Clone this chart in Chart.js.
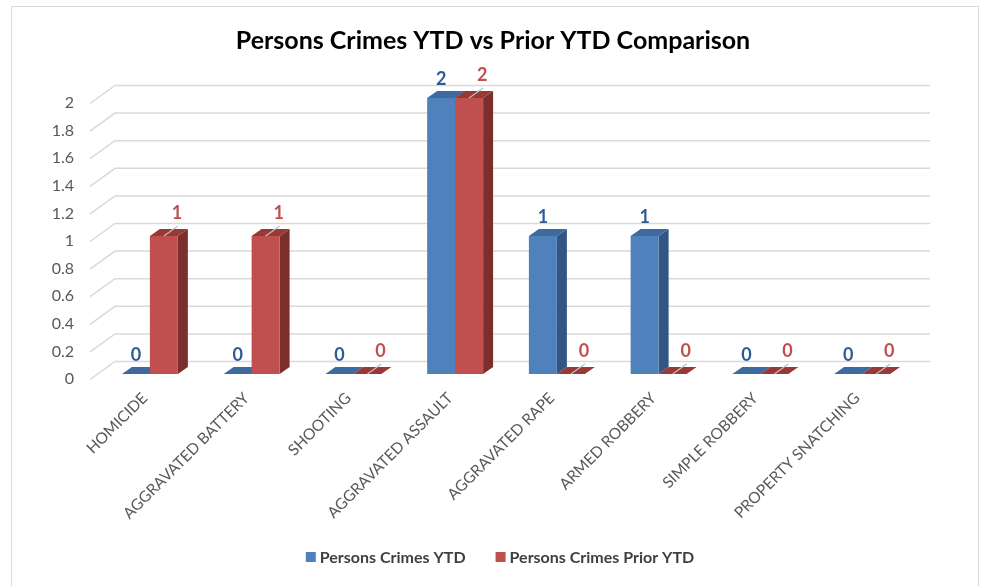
<!DOCTYPE html>
<html>
<head>
<meta charset="utf-8">
<script src="https://cdn.jsdelivr.net/npm/chart.js@4.4.1/dist/chart.umd.min.js"></script>
<style>
    html, body { margin: 0; padding: 0; background: #fff; }
    #wrap { position: relative; width: 986px; height: 586px; }
    #frame { position: absolute; left: 11px; top: 6px; width: 968px; height: 590px; border: 1px solid #d9d9d9; box-sizing: border-box; }
    canvas { position: absolute; left: 0; top: 0; }
</style>
</head>
<body>
<div id="wrap">
    <div id="frame"></div>
    <canvas id="crimeChart" width="986" height="586"></canvas>
</div>
<script>
const categories = ['HOMICIDE', 'AGGRAVATED BATTERY', 'SHOOTING', 'AGGRAVATED ASSAULT',
    'AGGRAVATED RAPE', 'ARMED ROBBERY', 'SIMPLE ROBBERY', 'PROPERTY SNATCHING'];
const ytdValues = [0, 0, 0, 2, 1, 1, 0, 0];
const priorYtdValues = [1, 1, 0, 2, 0, 0, 0, 0];
const yTicks = [0, 0.2, 0.4, 0.6, 0.8, 1, 1.2, 1.4, 1.6, 1.8, 2];

// 3d look: depth of the bars and of the back wall
const DEPTH_X = 10, DEPTH_Y = -7;
const WALL_X = 16, WALL_Y = -12.5;

const shades = [
    { front: '#4f81bd', side: '#335685', top: '#3e6aa0', label: '#2e5b93' },
    { front: '#c0504d', side: '#7b2f2d', top: '#983936', label: '#c0504d' }
];

// back wall grid, 3d faces, value labels and the legend
const wallPlugin = {
    id: 'wall',
    beforeDatasetsDraw(chart) {
        const { ctx, chartArea, scales: { y } } = chart;
        ctx.save();
        ctx.strokeStyle = '#d9d9d9';
        ctx.lineWidth = 1.5;
        yTicks.forEach(v => {
            const py = y.getPixelForValue(v);
            ctx.beginPath();
            ctx.moveTo(chartArea.left - 9, py + 5.5);
            ctx.lineTo(chartArea.left + WALL_X, py + WALL_Y);
            ctx.lineTo(930, py + WALL_Y);
            ctx.stroke();
        });

        // side and top faces first, so the front faces cover them
        chart.data.datasets.forEach((ds, di) => {
            const meta = chart.getDatasetMeta(di);
            meta.data.forEach(bar => {
                const left = bar.x - bar.width / 2;
                const right = bar.x + bar.width / 2;
                const top = bar.y;
                const base = bar.base;
                ctx.fillStyle = shades[di].side;
                ctx.beginPath();
                ctx.moveTo(right, base);
                ctx.lineTo(right + DEPTH_X, base + DEPTH_Y);
                ctx.lineTo(right + DEPTH_X, top + DEPTH_Y);
                ctx.lineTo(right, top);
                ctx.closePath();
                ctx.fill();
                ctx.fillStyle = shades[di].top;
                ctx.beginPath();
                ctx.moveTo(left, top);
                ctx.lineTo(left + DEPTH_X, top + DEPTH_Y);
                ctx.lineTo(right + DEPTH_X, top + DEPTH_Y);
                ctx.lineTo(right, top);
                ctx.closePath();
                ctx.fill();
            });
        });
        ctx.restore();
    },
    afterDatasetsDraw(chart) {
        const { ctx } = chart;
        ctx.save();
        ctx.font = 'bold 18px Lato';
        ctx.textAlign = 'center';
        ctx.textBaseline = 'middle';
        chart.data.datasets.forEach((ds, di) => {
            const meta = chart.getDatasetMeta(di);
            meta.data.forEach((bar, i) => {
                if (di === 1) {
                    ctx.strokeStyle = '#bfbfbf';
                    ctx.lineWidth = 1.2;
                    ctx.beginPath();
                    ctx.moveTo(bar.x, bar.y);
                    ctx.lineTo(bar.x + 14, bar.y - 10);
                    ctx.stroke();
                    ctx.fillStyle = shades[1].label;
                    ctx.fillText(ds.data[i], bar.x + 13, bar.y - 23);
                } else {
                    ctx.fillStyle = shades[0].label;
                    ctx.fillText(ds.data[i], bar.x, bar.y - 19);
                }
            });
        });

        // legend
        ctx.font = 'bold 16px Lato';
        ctx.textAlign = 'left';
        const names = chart.data.datasets.map(ds => ds.label);
        const widths = names.map(n => ctx.measureText(n).width);
        const itemW = widths.map(w => 10 + 4 + w);
        const gap = 30;
        let x = 500 - (itemW[0] + itemW[1] + gap) / 2;
        const ly = 557;
        names.forEach((n, i) => {
            ctx.fillStyle = shades[i].front;
            ctx.fillRect(x, ly - 5, 10, 10);
            ctx.fillStyle = '#404040';
            ctx.fillText(n, x + 14, ly + 1);
            x += itemW[i] + gap;
        });
        ctx.restore();
    }
};

const ctx = document.getElementById('crimeChart').getContext('2d');
const crimeChart = new Chart(ctx, {
    type: 'bar',
    data: {
        labels: categories,
        datasets: [
            { label: 'Persons Crimes YTD', data: ytdValues, backgroundColor: shades[0].front },
            { label: 'Persons Crimes Prior YTD', data: priorYtdValues, backgroundColor: shades[1].front }
        ]
    },
    options: {
        responsive: false,
        animation: false,
        layout: { padding: 0 },
        datasets: { bar: { barPercentage: 1, categoryPercentage: 0.55 } },
        plugins: {
            title: {
                display: true,
                text: 'Persons Crimes YTD vs Prior YTD Comparison',
                color: '#000',
                font: { family: 'Lato', size: 25, weight: 'bold' },
                padding: { top: 26, bottom: 42 }
            },
            legend: { display: false },
            tooltip: { enabled: false }
        },
        scales: {
            x: {
                grid: { display: false, drawTicks: false },
                border: { display: false },
                ticks: {
                    color: '#595959',
                    font: { family: 'Lato', size: 15.5 },
                    minRotation: 45,
                    maxRotation: 45,
                    autoSkip: false,
                    padding: 15,
                    labelOffset: -5
                },
                afterFit(scale) { scale.height = 212; }
            },
            y: {
                min: 0,
                max: 2,
                grid: { display: false, drawTicks: false },
                border: { display: false },
                afterBuildTicks(scale) { scale.ticks = yTicks.map(v => ({ value: v })); },
                ticks: {
                    color: '#595959',
                    font: { family: 'Lato', size: 16 },
                    padding: 25,
                    labelOffset: 5,
                    callback: v => String(v)
                },
                afterFit(scale) { scale.width = 99; }
            },
            // empty axis on the right, only to keep the plot's right margin
            yRight: {
                position: 'right',
                grid: { display: false, drawTicks: false },
                border: { display: false },
                ticks: { display: false },
                afterFit(scale) { scale.width = 73; }
            }
        }
    },
    plugins: [wallPlugin]
});
</script>
</body>
</html>
